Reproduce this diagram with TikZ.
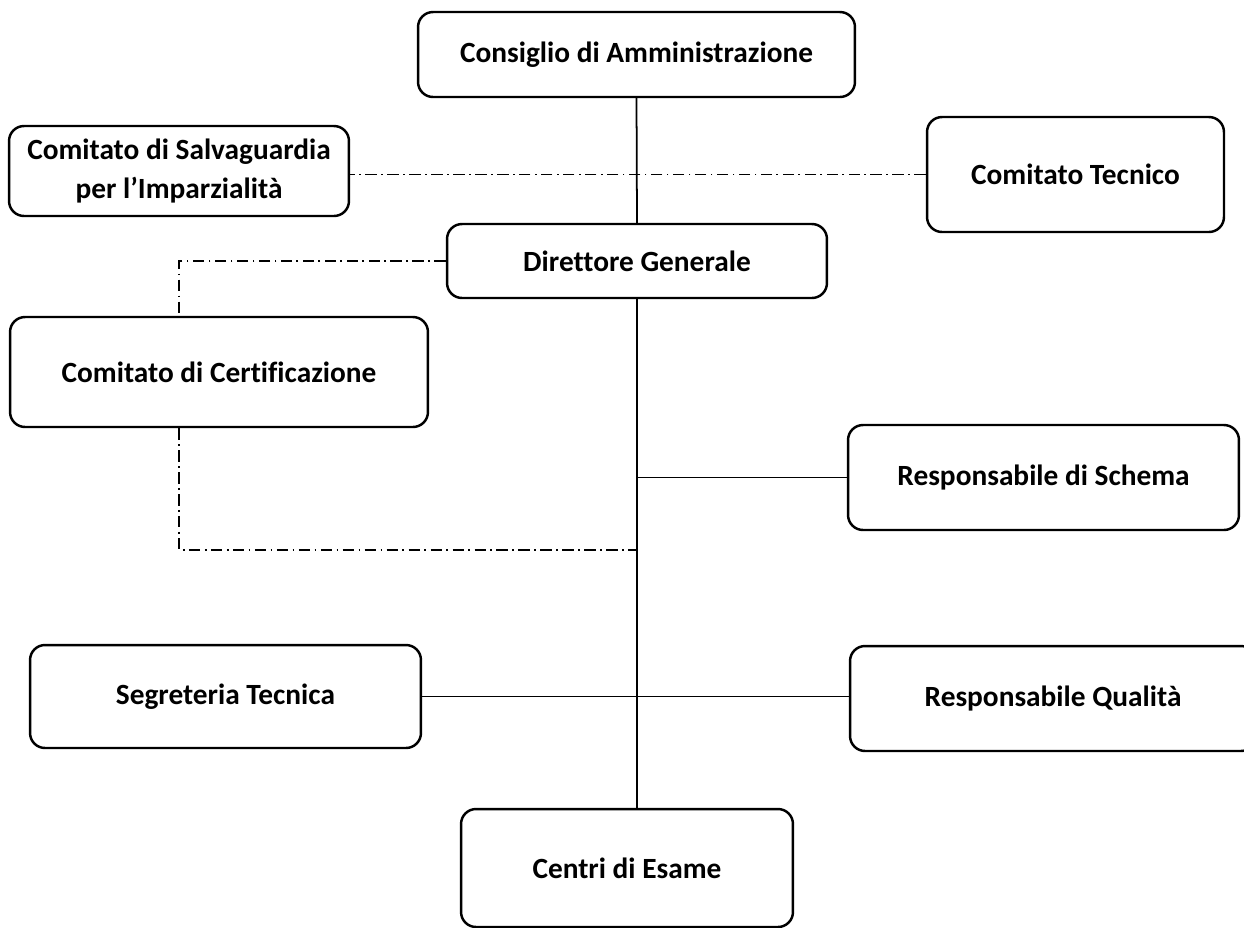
\documentclass[tikz,border=0pt]{standalone}
\usepackage{fontspec}
\setmainfont{Carlito}[Ligatures={NoCommon}]
\begin{document}
\begin{tikzpicture}[x=0.02cm,y=-0.02cm,
  box/.style={draw=black, line width=1.4pt, rounded corners=0.3cm, align=center,
    font=\bfseries\fontsize{16.7}{22}\selectfont, inner sep=0pt, fill=white},
  conn/.style={draw=black, line width=1pt},
  dd/.style={draw=black, line width=1pt, dash pattern=on 6.5pt off 2.5pt on 1pt off 2.5pt}]
\clip (0,0) rectangle (1244,927);
\fill[white] (0,0) rectangle (1244,927);
\node[box, minimum width=8.74cm, minimum height=1.70cm] (cda) at (636.5,54.5) {Consiglio di Amministrazione};
\node[box, minimum width=7.6cm, minimum height=1.48cm] (dg) at (637,261) {Direttore Generale};
\node[box, minimum width=6.8cm, minimum height=1.8cm] (csi) at (179,171) {Comitato di Salvaguardia\\per l’Imparzialità};
\node[box, minimum width=5.94cm, minimum height=2.3cm] (ct) at (1075.5,174.5) {Comitato Tecnico};
\node[box, minimum width=8.36cm, minimum height=2.2cm] (cc) at (219,372) {Comitato di Certificazione};
\node[box, minimum width=7.82cm, minimum height=2.1cm] (rs) at (1043.5,477.5) {Responsabile di Schema};
\node[box, minimum width=8.12cm, minimum height=2.1cm] (rq) at (1053,698.5) {Responsabile Qualità};
\node[box, minimum width=7.82cm, minimum height=2.06cm] (st) at (225.5,696.5) {Segreteria Tecnica};
\node[box, minimum width=6.64cm, minimum height=2.36cm] (ce) at (627,868) {Centri di Esame};
\coordinate (k1) at (179,261);
\coordinate (k2) at (179,550);
\draw[conn] (cda.south) -- (dg.north);
\draw[dd] (ct.west) -- (ct.west -| csi.east);
\draw[dd] (dg.west) -| (k1 |- cc.north);
\draw[conn] (dg.south) -- (dg.south |- ce.north);
\draw[conn] (rs.west) -- (rs.west -| dg.south);
\draw[dd] (k1 |- cc.south) -- (k2) -- (k2 -| dg.south);
\draw[conn] (st.east) -- (st.east -| rq.west);
\end{tikzpicture}
\end{document}
